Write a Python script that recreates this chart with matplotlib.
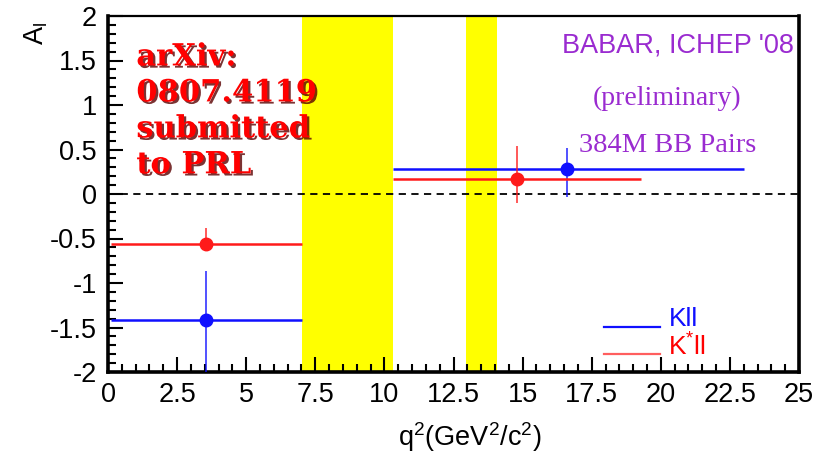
import matplotlib
matplotlib.use("Agg")
import matplotlib.pyplot as plt
import matplotlib.patheffects as pe
from matplotlib.lines import Line2D
from matplotlib.ticker import MultipleLocator

plt.rcParams['font.family'] = ['Liberation Sans', 'DejaVu Sans']
plt.rcParams['mathtext.fontset'] = 'custom'
plt.rcParams['mathtext.rm'] = 'Liberation Sans'
plt.rcParams['mathtext.it'] = 'Liberation Sans'

# Vetoed charmonium regions in q^2
veto_lo = [7.02, 12.94]
veto_hi = [10.30, 14.07]

# K l+ l- : bin centres, bin edges, asymmetry and errors
k_x = [3.55, 16.62]
k_xlo = [0.1, 10.30]
k_xhi = [7.02, 23.0]
k_y = [-1.42, 0.28]
k_eup = [0.55, 0.24]
k_edn = [0.70, 0.31]

# K* l+ l-
ks_x = [3.55, 14.79]
ks_xlo = [0.1, 10.30]
ks_xhi = [7.02, 19.28]
ks_y = [-0.56, 0.17]
ks_eup = [0.175, 0.37]
ks_edn = [0.07, 0.27]

xticks = [0, 2.5, 5, 7.5, 10, 12.5, 15, 17.5, 20, 22.5, 25]
xticklabels = ['0', '2.5', '5', '7.5', '10', '12.5', '15', '17.5', '20', '22.5', '25']
yticks = [-2, -1.5, -1, -0.5, 0, 0.5, 1, 1.5, 2]
yticklabels = ['-2', '-1.5', '-1', '-0.5', '0', '0.5', '1', '1.5', '2']

BLUE = '#1010ff'
RED = '#ff1a1a'
PURPLE = '#9a2bd0'

fig = plt.figure(figsize=(8.27, 4.70), dpi=100)
ax = fig.add_axes([108 / 827, 1 - 372 / 470, 691 / 827, 356 / 470])
ax.set_xlim(0, 25)
ax.set_ylim(-2, 2)

for lo, hi in zip(veto_lo, veto_hi):
    ax.axvspan(lo, hi, color='#ffff00', zorder=1, lw=0)

ax.axhline(0, color='black', lw=1.3, ls=(0, (4, 3)), zorder=2)


def draw_series(x, xlo, xhi, y, eup, edn, color):
    ax.hlines(y, xlo, xhi, color=color, lw=1.8, zorder=3)
    ax.vlines(x, [v - d for v, d in zip(y, edn)], [v + u for v, u in zip(y, eup)],
              color=color, lw=1.2, alpha=0.85, zorder=3)
    ax.plot(x, y, 'o', color=color, ms=9, mec=color, zorder=4)


draw_series(k_x, k_xlo, k_xhi, k_y, k_eup, k_edn, BLUE)
draw_series(ks_x, ks_xlo, ks_xhi, ks_y, ks_eup, ks_edn, RED)

# Axis styling
ax.set_xticks(xticks)
ax.set_xticklabels(xticklabels)
ax.set_yticks(yticks)
ax.set_yticklabels(yticklabels)
ax.xaxis.set_minor_locator(MultipleLocator(0.5))
ax.yaxis.set_minor_locator(MultipleLocator(0.1))
ax.tick_params(which='both', direction='in', top=False, right=False, width=1.5,
               labelsize=19.5, colors='black')
ax.tick_params(axis='x', which='major', length=11, pad=7)
ax.tick_params(axis='x', which='minor', length=6)
ax.tick_params(axis='y', which='major', length=11, pad=8)
ax.tick_params(axis='y', which='minor', length=6)
ax.spines['left'].set_linewidth(2.6)
ax.spines['bottom'].set_linewidth(2.6)
ax.spines['right'].set_linewidth(2.6)
ax.spines['top'].set_linewidth(1.6)

fig.text(470 / 827, 1 - 437 / 470, r'q$^{2}$(GeV$^{2}$/c$^{2}$)', fontsize=19.5,
         ha='center', va='center')
fig.text(36 / 827, 1 - 33 / 470, r'A$_{\rm l}$', fontsize=19.5, rotation=90,
         ha='center', va='center')

# Annotation block
shadow = [pe.SimplePatchShadow(offset=(1.6, -1.6), shadow_rgbFace='#5a0000', alpha=0.8),
          pe.Normal()]
for i, line in enumerate(['arXiv:', '0807.4119', 'submitted', 'to PRL']):
    ax.text(0.041, 0.885 - i * 0.101, line, transform=ax.transAxes, color='#ff0000',
            fontsize=22, fontweight='bold', family='DejaVu Serif',
            ha='left', va='center', path_effects=shadow, zorder=5)

fig.text(794 / 827, 1 - 45 / 470, "BABAR, ICHEP '08", color=PURPLE, fontsize=19.5,
         ha='right', va='center')
fig.text(667 / 827, 1 - 98 / 470, "(preliminary)", color=PURPLE, fontsize=20,
         family='Liberation Serif', ha='center', va='center')
fig.text(668 / 827, 1 - 146 / 470, "384M BB Pairs", color=PURPLE, fontsize=20.5,
         family='Liberation Serif', ha='center', va='center')

# Legend keys
ax.add_line(Line2D([0.718, 0.799], [0.126, 0.126], transform=ax.transAxes,
                   color=BLUE, lw=1.6))
ax.add_line(Line2D([0.718, 0.799], [0.051, 0.051], transform=ax.transAxes,
                   color=RED, lw=1.6, alpha=0.7))
ax.text(0.811, 0.15, 'Kll', transform=ax.transAxes, color=BLUE, fontsize=19,
        ha='left', va='center')
ax.text(0.811, 0.07, r'K$^{*}$ll', transform=ax.transAxes, color='#ff0000', fontsize=19,
        ha='left', va='center')

fig.savefig('out.png', dpi=100)
